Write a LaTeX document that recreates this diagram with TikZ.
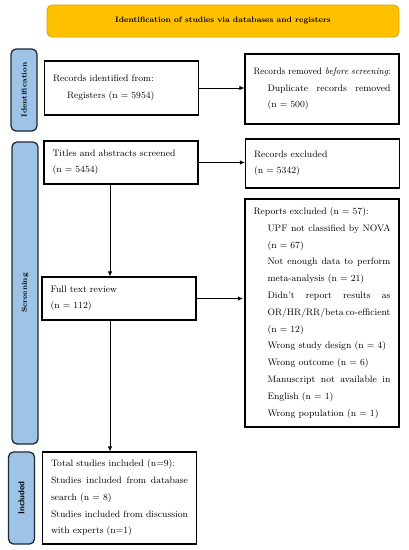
\documentclass[tikz,border=0pt]{standalone}
\usepackage{graphicx}
\usetikzlibrary{arrows.meta}
\definecolor{bannerfill}{HTML}{FFC000}
\definecolor{bannerdraw}{HTML}{D9A300}
\definecolor{barfill}{HTML}{9DC3E6}
\definecolor{bardraw}{HTML}{1F2937}
\newcommand{\jline}[2]{\leavevmode\hbox to #1{#2}}
\newcommand{\ind}{\hspace*{14pt}}
\tikzset{
  box/.style={draw=black, line width=1.1pt, inner xsep=8.5pt, inner ysep=0pt,
    text width=137pt, align=left, anchor=center,
    font=\fontsize{9.4}{16.8}\selectfont},
  bar/.style={draw=bardraw, fill=barfill, line width=1.3pt, rounded corners=5pt,
    rotate=90, anchor=center, inner sep=0pt, minimum height=26pt,
    font=\bfseries\fontsize{7.3}{8}\selectfont},
  banner/.style={draw=bannerdraw, fill=bannerfill, line width=0.8pt, rounded corners=5pt,
    anchor=center, minimum width=352pt, minimum height=32pt,
    font=\bfseries\fontsize{7.85}{9}\selectfont},
  arr/.style={draw=black, line width=0.8pt, -{Latex[length=5pt,width=4.5pt]}}
}
\begin{document}
\begin{tikzpicture}[x=1pt,y=-1pt]
\useasboundingbox (0,0) rectangle (408,550);
% banner
\node[banner] (ban) at (223,21) {Identification of studies via databases and registers};
% sidebars
\node[bar, minimum width=82pt] (sid) at (24,90) {Identification};
\node[bar, minimum width=302pt] (sscr) at (25,293) {Screening};
\node[bar, minimum width=92pt, font=\sffamily\bfseries\fontsize{8.6}{9}\selectfont] (sinc) at (21.5,498) {Included};
% boxes
\node[box, minimum height=54pt] (A) at (121.5,88) {Records identified from:\\ \ind Registers (n = 5954)};
\node[box, minimum height=70pt] (B) at (322,89) {\mbox{\scalebox{0.955}[1]{Records removed \textit{before screening}:}}\\
  \ind\jline{123pt}{Duplicate\hfill records\hfill removed}\\ \ind(n = 500)};
\node[box, minimum height=43pt] (C) at (121,162.5) {Titles and abstracts screened\\(n = 5454)};
\node[box, minimum height=49pt] (D) at (322.5,163.5) {Records excluded\\(n = 5342)};
\node[box, minimum height=228pt] (E) at (322,313) {Reports excluded (n = 57):\\
  \ind\jline{123pt}{UPF\hfill not\hfill classified\hfill by\hfill NOVA}\\
  \ind(n = 67)\\
  \ind\jline{123pt}{Not\hfill enough\hfill data\hfill to\hfill perform}\\
  \ind\mbox{meta-analysis (n = 21)}\\
  \ind\jline{123pt}{Didn’t\hfill report\hfill results\hfill as}\\
  \ind\jline{123pt}{OR/HR/RR/beta\hfill co-efficient}\\
  \ind(n = 12)\\
  \ind\mbox{Wrong study design (n = 4)}\\
  \ind\mbox{Wrong outcome (n = 6)}\\
  \ind\jline{123pt}{Manuscript\hfill not\hfill available\hfill in}\\
  \ind\mbox{English (n = 1)}\\
  \ind\mbox{Wrong population (n = 1)}};
\node[box, minimum height=43pt] (F) at (119,298.5) {Full text review\\(n = 112)};
\node[box, minimum height=92pt] (G) at (119.5,498) {\mbox{Total studies included (n=9):}\\
  \jline{137pt}{Studies\hfill included\hfill from\hfill database}\\
  search (n = 8)\\
  \mbox{Studies included from discussion}\\
  with experts (n=1)};
% connectors
\draw[arr] (A.east) -- (A.east -| B.west);
\draw[arr] (C.east) -- (C.east -| D.west);
\draw[arr] (F.east) -- ([xshift=-1.5pt]F.east -| E.west);
\draw[arr] ([xshift=-11pt]C.south) -- ([xshift=-11pt]C.south |- F.north);
\draw[arr] ([xshift=-9pt]F.south) -- ([xshift=-9pt]F.south |- G.north);
\end{tikzpicture}
\end{document}
